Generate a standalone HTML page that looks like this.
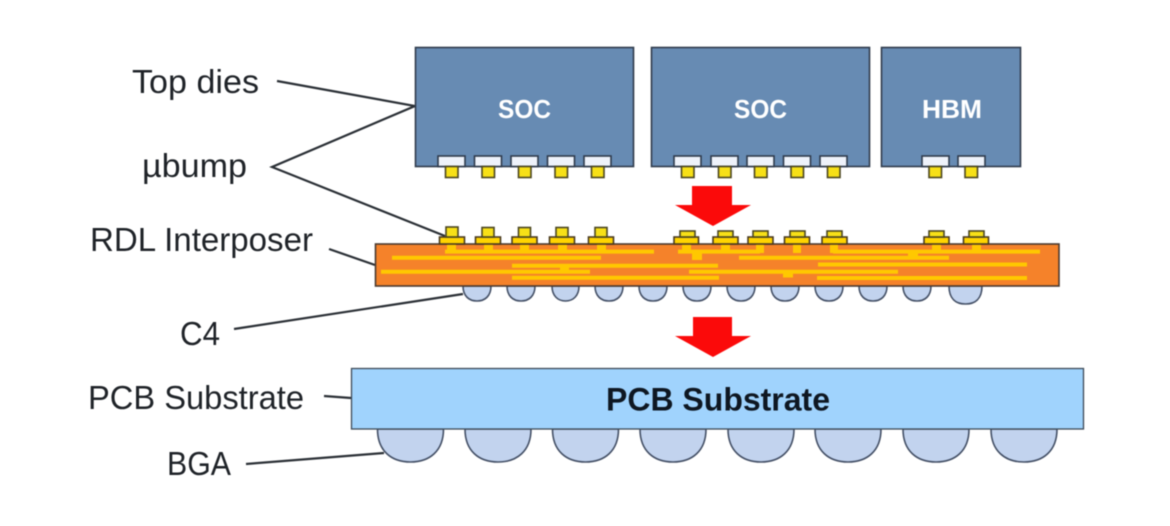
<!DOCTYPE html>
<html>
<head>
<meta charset="utf-8">
<style>
html,body{margin:0;padding:0;background:#fff;width:1170px;height:526px;overflow:hidden}
svg{display:block;filter:blur(0.6px)}
.l{font-family:"Liberation Sans",sans-serif;font-size:33px;fill:#1f2328}
.b{font-family:"Liberation Sans",sans-serif;font-weight:bold;font-size:26px;fill:#fff}
.die{fill:#678bb3;stroke:#2f3b4c;stroke-width:1.6}
.pad{fill:#eef2fa;stroke:#2f3b4c;stroke-width:1.6}
.au{fill:#f7e017;stroke:#4b4620;stroke-width:1.6}
.sn{fill:#ffd400;stroke:#4a3a20;stroke-width:1.6}
.lead{stroke:#2b3036;stroke-width:2.2;fill:none}
.bump{fill:#c2d3ee;stroke:#445066;stroke-width:1.6}
.t{stroke:#ffc800;stroke-width:4;fill:none}
.tf{fill:#ffc800}
</style>
</head>
<body>
<svg width="1170" height="526" viewBox="0 0 1170 526" xmlns="http://www.w3.org/2000/svg">
<!-- leaders -->
<path class="lead" d="M277 81L415 106L272 167L445 236M329 249L375 265M234 329L463 294M324 396L351 398M246 464L384 453"/>

<!-- dies -->
<rect class="die" x="415.5" y="47.5" width="218" height="119"/>
<rect class="die" x="651.5" y="47.5" width="218" height="119"/>
<rect class="die" x="881.5" y="47.5" width="139" height="119"/>
<text class="b" x="524.5" y="118" text-anchor="middle" textLength="53" lengthAdjust="spacingAndGlyphs">SOC</text>
<text class="b" x="760.5" y="118" text-anchor="middle" textLength="53" lengthAdjust="spacingAndGlyphs">SOC</text>
<text class="b" x="952" y="118" text-anchor="middle" textLength="60" lengthAdjust="spacingAndGlyphs">HBM</text>

<!-- die pads -->
<g class="pads">
<rect class="pad" x="438" y="156" width="27" height="10.5"/><rect class="au" x="445.5" y="166.5" width="12.5" height="11"/>
<rect class="pad" x="474.5" y="156" width="27" height="10.5"/><rect class="au" x="482" y="166.5" width="12.5" height="11"/>
<rect class="pad" x="511" y="156" width="27" height="10.5"/><rect class="au" x="518.5" y="166.5" width="12.5" height="11"/>
<rect class="pad" x="547.5" y="156" width="27" height="10.5"/><rect class="au" x="555" y="166.5" width="12.5" height="11"/>
<rect class="pad" x="584" y="156" width="27" height="10.5"/><rect class="au" x="591.5" y="166.5" width="12.5" height="11"/>
<rect class="pad" x="674" y="156" width="27" height="10.5"/><rect class="au" x="681.5" y="166.5" width="12.5" height="11"/>
<rect class="pad" x="711" y="156" width="27" height="10.5"/><rect class="au" x="718.5" y="166.5" width="12.5" height="11"/>
<rect class="pad" x="747" y="156" width="27" height="10.5"/><rect class="au" x="754.5" y="166.5" width="12.5" height="11"/>
<rect class="pad" x="783.5" y="156" width="27" height="10.5"/><rect class="au" x="791" y="166.5" width="12.5" height="11"/>
<rect class="pad" x="820" y="156" width="27" height="10.5"/><rect class="au" x="827.5" y="166.5" width="12.5" height="11"/>
<rect class="pad" x="922" y="156" width="27" height="10.5"/><rect class="au" x="929" y="166.5" width="12.5" height="11"/>
<rect class="pad" x="958" y="156" width="27" height="10.5"/><rect class="au" x="965" y="166.5" width="12.5" height="11"/>
</g>

<!-- arrows -->
<polygon fill="#fb0a0a" points="692,186 732,186 732,205 751,205 713,226 675,205 692,205"/>
<polygon fill="#fb0a0a" points="693,317 732,317 732,336 751,336 713,357 675,336 693,336"/>

<!-- C4 bumps -->
<path class="bump" d="M463 286c0 10 6 15 14 15s14-5 14-15z"/>
<path class="bump" d="M507 286c0 10 6 15 14 15s14-5 14-15z"/>
<path class="bump" d="M552 286c0 10 6 15 13.500 15s13.500-5 13.500-15z"/>
<path class="bump" d="M595 286c0 10 6 15 14 15s14-5 14-15z"/>
<path class="bump" d="M639 286c0 10 6 15 14 15s14-5 14-15z"/>
<path class="bump" d="M683 286c0 10 6 15 14 15s14-5 14-15z"/>
<path class="bump" d="M727 286c0 10 6 15 14 15s14-5 14-15z"/>
<path class="bump" d="M771 286c0 10 6 15 14 15s14-5 14-15z"/>
<path class="bump" d="M815 286c0 10 6 15 14 15s14-5 14-15z"/>
<path class="bump" d="M859 286c0 10 6 15 14 15s14-5 14-15z"/>
<path class="bump" d="M903 286c0 10 6 15 14 15s14-5 14-15z"/>
<path class="bump" d="M949 286c0 13 7 18 16.500 18s16.500-5 16.500-18z"/>

<!-- interposer -->
<rect x="375.500" y="244" width="683.500" height="42" fill="#f5822a" stroke="#4a3a30" stroke-width="1.600"/>
<g>
<path class="t" d="M445 251.600H654M678 251.600H760M833 251.600H1040M392 257.700H601M739 257.700H949M512 265.700H718M818 264.500H1027M381 271.700H590M689 271.700H898M512 277.700H719M817 278H1027"/>
<rect class="tf" x="560" y="265" width="9" height="8"/>
<rect class="tf" x="908" y="251" width="10" height="8"/>
<rect class="tf" x="783" y="271" width="10" height="6.500"/>
<rect class="tf" x="692" y="251" width="10" height="9"/>
</g>

<!-- interposer bumps -->
<g>
<rect class="tf" x="447" y="244" width="9" height="8"/><rect class="sn" x="439.500" y="237" width="25" height="7"/><rect class="au" x="446" y="227" width="12" height="10"/>
<rect class="tf" x="484" y="244" width="9" height="8"/><rect class="sn" x="475.500" y="237" width="25" height="7"/><rect class="au" x="482" y="227.500" width="12" height="9.500"/>
<rect class="tf" x="520" y="244" width="9" height="8"/><rect class="sn" x="512" y="237" width="25" height="7"/><rect class="au" x="518.500" y="227.500" width="12" height="9.500"/>
<rect class="tf" x="558" y="244" width="9" height="8"/><rect class="sn" x="549.500" y="237" width="25" height="7"/><rect class="au" x="556" y="227.500" width="12" height="9.500"/>
<rect class="tf" x="597" y="244" width="9" height="8"/><rect class="sn" x="588.500" y="237" width="25" height="7"/><rect class="au" x="595" y="227.500" width="12" height="9.500"/>
<rect class="tf" x="682" y="244" width="9" height="8"/><rect class="sn" x="674" y="237" width="24.500" height="7"/><rect class="au" x="680" y="231" width="15" height="6"/>
<rect class="tf" x="721" y="244" width="9" height="8"/><rect class="sn" x="713" y="237" width="25" height="7"/><rect class="au" x="718" y="231" width="15" height="6"/>
<rect class="tf" x="756" y="244" width="8" height="9"/><rect class="sn" x="748" y="237" width="25" height="7"/><rect class="au" x="753" y="231" width="15" height="6"/>
<rect class="tf" x="793" y="244" width="8" height="9"/><rect class="sn" x="784.500" y="237" width="25" height="7"/><rect class="au" x="790" y="231" width="15" height="6"/>
<rect class="tf" x="830" y="244" width="8" height="9"/><rect class="sn" x="822" y="237" width="25" height="7"/><rect class="au" x="827" y="231" width="15" height="6"/>
<rect class="tf" x="932" y="244" width="9" height="8"/><rect class="sn" x="924" y="237" width="25" height="7"/><rect class="au" x="929" y="231" width="15" height="6"/>
<rect class="tf" x="972" y="244" width="9" height="8"/><rect class="sn" x="963.500" y="237" width="25" height="7"/><rect class="au" x="969" y="231" width="15" height="6"/>
</g>

<!-- BGA -->
<path class="bump" d="M377.500 429c0 22 14 33 33 33s33-11 33-33z"/>
<path class="bump" d="M465 429c0 22 14 33 33 33s33-11 33-33z"/>
<path class="bump" d="M552.500 429c0 22 14 33 33 33s33-11 33-33z"/>
<path class="bump" d="M640 429c0 22 14 33 33 33s33-11 33-33z"/>
<path class="bump" d="M728 429c0 22 14 33 33 33s33-11 33-33z"/>
<path class="bump" d="M815 429c0 22 14 33 33 33s33-11 33-33z"/>
<path class="bump" d="M903 429c0 22 14 33 33 33s33-11 33-33z"/>
<path class="bump" d="M991 429c0 22 14 33 33 33s33-11 33-33z"/>

<!-- PCB -->
<rect x="351.500" y="368.500" width="732" height="60.500" fill="#a0d3fd" stroke="#3d4a58" stroke-width="1.300"/>
<text x="718" y="410.500" text-anchor="middle" textLength="224" lengthAdjust="spacingAndGlyphs" font-family="Liberation Sans, sans-serif" font-weight="bold" font-size="32" fill="#0e1722">PCB Substrate</text>

<!-- labels -->
<text class="l" x="132" y="93" textLength="127" lengthAdjust="spacingAndGlyphs">Top dies</text>
<text class="l" x="142" y="177" textLength="105" lengthAdjust="spacingAndGlyphs">µbump</text>
<text class="l" x="90" y="251" textLength="223" lengthAdjust="spacingAndGlyphs">RDL Interposer</text>
<text class="l" x="180" y="345" textLength="40" lengthAdjust="spacingAndGlyphs">C4</text>
<text class="l" x="88" y="409" textLength="216" lengthAdjust="spacingAndGlyphs">PCB Substrate</text>
<text class="l" x="167" y="475" textLength="64" lengthAdjust="spacingAndGlyphs">BGA</text>
</svg>
</body>
</html>
